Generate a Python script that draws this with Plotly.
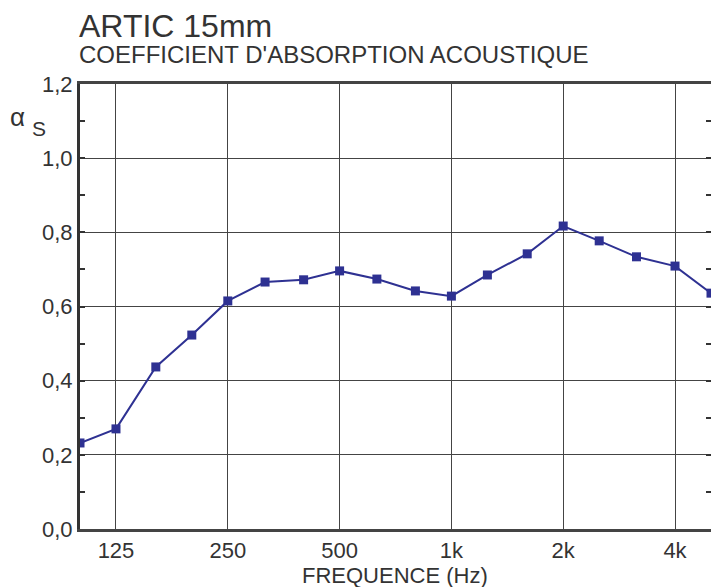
import plotly.graph_objects as go

freqs = [100, 125, 160, 200, 250, 315, 400, 500, 630, 800, 1000, 1250, 1600, 2000, 2500, 3150, 4000, 5000]
alpha = [0.232, 0.270, 0.437, 0.523, 0.615, 0.666, 0.672, 0.696, 0.674, 0.642, 0.628, 0.685, 0.742, 0.817, 0.777, 0.734, 0.709, 0.636]

x_tickvals = [125, 250, 500, 1000, 2000, 4000]
x_ticktext = ["125", "250", "500", "1k", "2k", "4k"]
y_tickvals = [0.0, 0.2, 0.4, 0.6, 0.8, 1.0, 1.2]
y_ticktext = ["0,0", "0,2", "0,4", "0,6", "0,8", "1,0", "1,2"]

line_color = "#2E3192"
font_fam = "Liberation Sans, Arial, sans-serif"
txt_color = "#333333"

# plot area in pixels: x 80..711, y 84..529
PT, PB, PL, PR = 84, 529, 80, 711
def py(ypix):
    return (PB - ypix) / (PB - PT)
def px(xpix):
    return (xpix - PL) / (PR - PL)

fig = go.Figure()
fig.add_trace(go.Scatter(
    x=freqs, y=alpha, mode="lines+markers",
    line=dict(color=line_color, width=2),
    marker=dict(symbol="square", size=9, color=line_color),
    showlegend=False,
))

fig.update_layout(
    width=711, height=587,
    margin=dict(l=PL, r=711 - PR, t=PT, b=587 - PB, autoexpand=False),
    paper_bgcolor="white", plot_bgcolor="white",
    font=dict(family=font_fam, color=txt_color, size=22),
    xaxis=dict(
        type="log",
        range=[2.0, 3.69897],
        tickvals=x_tickvals, ticktext=x_ticktext,
        showgrid=True, gridcolor="#444444", gridwidth=1,
        showline=True, linecolor="#444444", linewidth=3,
        mirror=True,
        ticks="", zeroline=False,
        tickfont=dict(size=22, color=txt_color),
    ),
    yaxis=dict(
        range=[0, 1.2],
        tickvals=y_tickvals, ticktext=y_ticktext,
        showgrid=True, gridcolor="#444444", gridwidth=1,
        showline=True, linecolor="#333333", linewidth=3,
        mirror="allticks",
        ticks="inside", ticklen=5, tickcolor="#333333", tickwidth=2,
        minor=dict(dtick=0.1, ticks="inside", ticklen=5, tickcolor="#333333", tickwidth=2, showgrid=False),
        zeroline=False,
        tickfont=dict(size=22, color=txt_color),
    ),
)

fig.add_annotation(text="ARTIC 15mm", xref="paper", yref="paper",
                   x=px(78), y=py(26), xanchor="left", yanchor="middle", borderpad=0,
                   showarrow=False, font=dict(size=32, color=txt_color, family=font_fam))
fig.add_annotation(text="COEFFICIENT D'ABSORPTION ACOUSTIQUE", xref="paper", yref="paper",
                   x=px(78), y=py(55), xanchor="left", yanchor="middle", borderpad=0,
                   showarrow=False, font=dict(size=24, color=txt_color, family=font_fam))
fig.add_annotation(text="α", xref="paper", yref="paper",
                   x=px(8), y=py(117), xanchor="left", yanchor="middle",
                   showarrow=False, font=dict(size=26, color=txt_color, family=font_fam))
fig.add_annotation(text="S", xref="paper", yref="paper",
                   x=px(30), y=py(128), xanchor="left", yanchor="middle",
                   showarrow=False, font=dict(size=21, color=txt_color, family=font_fam))
fig.add_annotation(text="FREQUENCE (Hz)", xref="paper", yref="paper",
                   x=px(395), y=py(575), xanchor="center", yanchor="middle", borderpad=0,
                   showarrow=False, font=dict(size=22, color=txt_color, family=font_fam))

fig.write_html("out.html", config={"displayModeBar": False},
               post_script="document.body.style.margin='0';document.body.style.overflow='hidden';")
